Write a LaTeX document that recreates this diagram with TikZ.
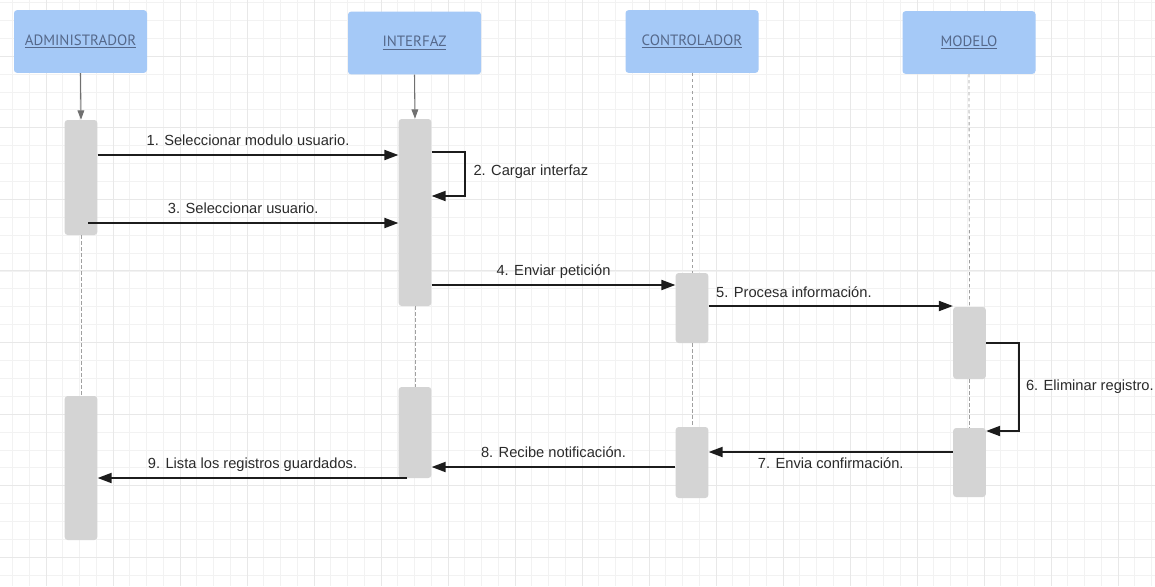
\documentclass[tikz,border=0pt]{standalone}
\usepackage{fontspec}
\setmainfont{Liberation Sans}
\newfontfamily\hdrfont{PT Sans}
\usetikzlibrary{arrows.meta,calc}

\definecolor{hdrfill}{HTML}{A5C9F7}
\definecolor{hdrtext}{HTML}{55688A}
\definecolor{barfill}{HTML}{D4D4D4}
\definecolor{inkdark}{HTML}{1C1C1C}
\definecolor{lbltext}{HTML}{2A2A2A}
\definecolor{gridminor}{HTML}{F2F2F2}
\definecolor{gridmajor}{HTML}{E8E8E8}
\definecolor{lifegray}{HTML}{A0A0A0}
\definecolor{entrygray}{HTML}{707070}

\tikzset{
  hdr/.style={rectangle, rounded corners=2.25pt, fill=hdrfill, inner sep=0pt,
    minimum width=99.75pt, minimum height=47pt, text=hdrtext,
    font=\hdrfont\fontsize{11.2}{13}\selectfont},
  actbar/.style={rectangle, rounded corners=2.25pt, fill=barfill, inner sep=0pt,
    minimum width=24.5pt},
  msg/.style={draw=inkdark, line width=1.4pt, -{Triangle[length=10.5pt,width=7.5pt]}},
  entry/.style={draw=entrygray, line width=0.8pt, -{Triangle[length=7pt,width=5pt]}},
  life/.style={draw=lifegray, line width=0.6pt, dash pattern=on 2.5pt off 2pt},
  lbl/.style={inner sep=0pt, text=lbltext, font=\fontsize{11}{13}\selectfont},
  gminor/.style={draw=gridminor, line width=0.6pt},
  gmajor/.style={draw=gridmajor, line width=0.7pt},
}

\begin{document}
\begin{tikzpicture}[x=0.75pt, y=-0.75pt]
  % canvas
  \useasboundingbox (0,0) rectangle (1155,586);
  \fill[white] (0,0) rectangle (1155,586);

  % background grid
  \foreach \i in {-31,...,38} \draw[gminor] ({515+16.75*\i},0) -- ({515+16.75*\i},586);
  \foreach \j in {-31,...,1} \draw[gminor] (0,{557.3+17.9*\j}) -- (1155,{557.3+17.9*\j});
  \foreach \i in {-8,...,9} \draw[gmajor] ({515+67*\i},0) -- ({515+67*\i},586);
  \foreach \j in {-7,...,0} \draw[gmajor] (0,{557.3+71.6*\j}) -- (1155,{557.3+71.6*\j});

  % participants
  \node[hdr] (adm) at (80.5,41.5) {\underline{ADMINISTRADOR}};
  \node[hdr] (itf) at (414.5,43)  {\underline{INTERFAZ}};
  \node[hdr] (ctl) at (692,41.5)  {\underline{CONTROLADOR}};
  \node[hdr] (mdl) at (969,42.5)  {\underline{MODELO}};

  % activation bars
  \node[actbar, minimum height=86.25pt]  (a1) at (81,177.5)   {};
  \node[actbar, minimum height=108pt]    (a2) at (81,468)     {};
  \node[actbar, minimum height=140.25pt] (i1) at (415,212.5)  {};
  \node[actbar, minimum height=68.25pt]  (i2) at (415,432.5)  {};
  \node[actbar, minimum height=52.5pt]   (c1) at (692,308)    {};
  \node[actbar, minimum height=53.25pt]  (c2) at (692,462.5)  {};
  \node[actbar, minimum height=54pt]     (m1) at (969.5,343)  {};
  \node[actbar, minimum height=51.75pt]  (m2) at (969.5,462.5){};

  % lifelines
  \draw[entry] (adm.south) -- (a1.north);
  \draw[entry] (itf.south) -- (i1.north);
  \draw[life] (a1.south) -- (a2.north);
  \draw[life] (i1.south) -- (i2.north);
  \draw[life] (ctl.south) -- (c1.north);
  \draw[life] (c1.south) -- (c2.north);
  \draw[life] (mdl.south) -- (m1.north);
  \draw[life] (m1.south) -- (m2.north);

  % messages
  \draw[msg] (a1.east |- 0,155) --
    node[lbl, anchor=base, yshift=7.5pt] {1. Seleccionar modulo usuario.}
    (i1.west |- 0,155);
  \draw[msg] (i1.east |- 0,152) -- ++(33,0) |-
    node[lbl, pos=0.25, anchor=west, xshift=6pt, yshift=1.5pt] {2. Cargar interfaz}
    (i1.east |- 0,196);
  \draw[msg] ($(a1.center |- 0,223)+(7,0)$) --
    node[lbl, anchor=base, yshift=7.5pt] {3. Seleccionar usuario.}
    (i1.west |- 0,223);
  \draw[msg] (i1.east |- 0,285) --
    node[lbl, anchor=base, yshift=7.5pt] {4. Enviar petición}
    (c1.west |- 0,285);
  \draw[msg] (c1.east |- 0,306) --
    node[lbl, pos=0, anchor=base west, xshift=5pt, yshift=6.75pt] {5. Procesa información.}
    (m1.west |- 0,306);
  \draw[msg] (m1.east |- 0,343) -- ++(33,0) |-
    node[lbl, pos=0.25, anchor=west, xshift=4.5pt] {6. Eliminar registro.}
    (m2.east |- 0,431);
  \draw[msg] (m2.west |- 0,452) --
    node[lbl, anchor=base, yshift=-12pt] {7. Envia confirmación.}
    (c2.east |- 0,452);
  \draw[msg] (c2.west |- 0,467) --
    node[lbl, anchor=base, yshift=7.5pt] {8. Recibe notificación.}
    (i2.east |- 0,467);
  \draw[msg] ($(i2.west |- 0,478)+(9,0)$) --
    node[lbl, anchor=base, yshift=7.5pt] {9. Lista los registros guardados.}
    (a2.east |- 0,478);
\end{tikzpicture}
\end{document}
